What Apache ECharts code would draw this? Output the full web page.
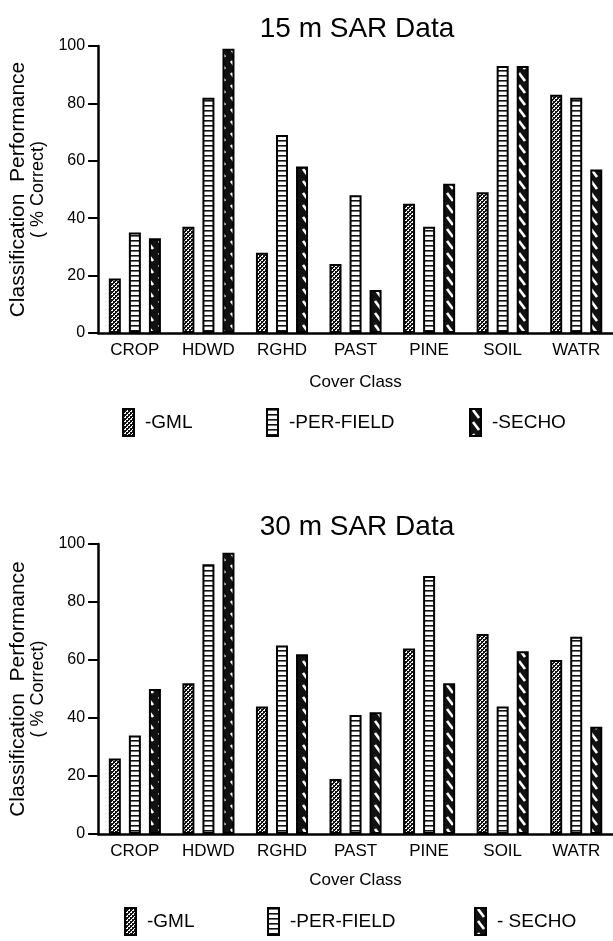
<!DOCTYPE html>
<html><head><meta charset="utf-8">
<script src="https://cdn.jsdelivr.net/npm/echarts@6/dist/echarts.min.js"></script>
<style>html,body{margin:0;padding:0;background:#fff}#c{width:613px;height:941px}</style>
</head><body><div id="c"></div>
<script>
const categories = ['CROP','HDWD','RGHD','PAST','PINE','SOIL','WATR'];
const seriesNames = ['GML','PER-FIELD','SECHO'];
const legendLabels = [['-GML','-PER-FIELD','-SECHO'],['-GML','-PER-FIELD','- SECHO']];
const yTicks = [0,20,40,60,80,100];
const gml15 = [19,37,28,24,45,49,83];
const per15 = [35,82,69,48,37,93,82];
const secho15 = [33,99,58,15,52,93,57];
const gml30 = [26,52,44,19,64,69,60];
const per30 = [34,93,65,41,89,44,68];
const secho30 = [50,97,62,42,52,63,37];

function mk(w,h,draw){const c=document.createElement('canvas');c.width=w;c.height=h;const g=c.getContext('2d');draw(g);return c;}
const patGML = mk(4,4,g=>{g.fillStyle='#111';g.fillRect(0,0,4,4);g.fillStyle='#fff';
  g.fillRect(1,0,2,1);g.fillRect(0,2,1,1);g.fillRect(3,2,1,1);g.fillRect(0,1,1,1);g.fillRect(2,3,1,1);});
const patPER = mk(6,5,g=>{g.fillStyle='#fff';g.fillRect(0,0,6,5);g.fillStyle='#111';g.fillRect(0,0,6,1.6);});
const patSEC = mk(12,12,g=>{g.fillStyle='#111';g.fillRect(0,0,12,12);g.strokeStyle='#fff';g.lineWidth=2.6;
  g.beginPath();g.moveTo(3,1);g.lineTo(9,9);g.stroke();});
const pats = [patGML, patPER, patSEC];

const font = 'Liberation Sans, Arial, sans-serif';
const grids = [{left:97,right:0,top:46,height:287},{left:97,right:0,top:544,height:290}];
const dataSets = [[gml15,per15,secho15],[gml30,per30,secho30]];
const titles = ['15 m SAR Data','30 m SAR Data'];
const titleTop = [10,508];
const coverGap = [41,38];
const legendTop = [408,907];
const legendLeft = [[122,266,469],[124,267,474]];

const xAxis = [], yAxis = [], series = [], title = [], legend = [];
[0,1].forEach(i=>{
  xAxis.push({type:'category',gridIndex:i,data:categories,
    axisLine:{lineStyle:{color:'#000',width:2.5}},axisTick:{show:false},
    axisLabel:{color:'#000',fontSize:17,fontFamily:font,margin:9},
    name:'Cover Class',nameLocation:'middle',nameGap:coverGap[i],
    nameTextStyle:{color:'#000',fontSize:17,fontFamily:font}});
  yAxis.push({type:'value',gridIndex:i,min:0,max:100,interval:20,
    axisLine:{show:true,lineStyle:{color:'#000',width:2.5}},
    axisTick:{show:true,length:10,lineStyle:{color:'#000',width:2}},
    splitLine:{show:false},
    axisLabel:{color:'#000',fontSize:16,fontFamily:font,margin:13,
      formatter:v=>yTicks.includes(v)?String(v):''},
    name:'{a|Classification  Performance}\n{b|( % Correct)}',nameLocation:'middle',nameGap:47,
    nameTextStyle:{color:'#000',fontFamily:font,
      rich:{a:{fontSize:21,lineHeight:21,color:'#000',fontFamily:font},
            b:{fontSize:18,lineHeight:19,color:'#000',fontFamily:font}}}});
  seriesNames.forEach((n,k)=>{
    series.push({type:'bar',name:n,xAxisIndex:i,yAxisIndex:i,data:dataSets[i][k],
      barWidth:12,barGap:'67%',
      itemStyle:{color:{image:pats[k],repeat:'repeat'},borderColor:'#000',borderWidth:2}});
    legend.push({data:[n],left:legendLeft[i][k],top:legendTop[i],padding:0,
      itemWidth:11,itemHeight:27,icon:'rect',
      formatter:()=>legendLabels[i][k],
      textStyle:{color:'#000',fontSize:19,fontFamily:font,padding:[14,0,0,6]}});
  });
  title.push({text:titles[i],left:352,textAlign:'center',top:titleTop[i],
    textStyle:{color:'#000',fontSize:28,fontWeight:'normal',fontFamily:font}});
});

const chart = echarts.init(document.getElementById('c'),null,{renderer:'canvas'});
chart.setOption({animation:false,backgroundColor:'#fff',grid:grids,xAxis,yAxis,series,title,legend});
</script></body></html>
